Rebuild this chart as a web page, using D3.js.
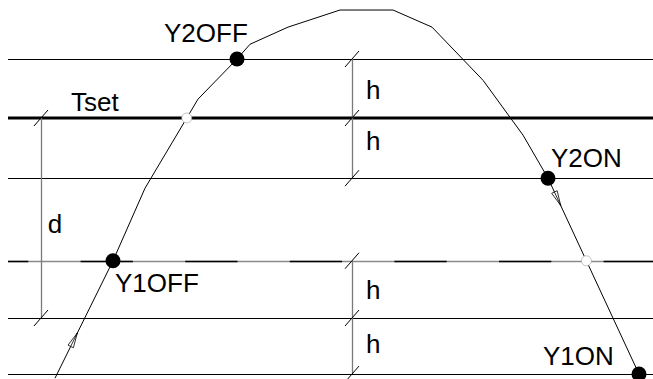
<!DOCTYPE html>
<html lang="en">
<head>
  <meta charset="UTF-8">
  <title>Two-stage switching diagram</title>
  <style>
    body {
      margin: 0;
      background: #fff;
      overflow: hidden;
    }
    svg text {
      font-family: "Liberation Sans", Arial, sans-serif;
      font-size: 26px;
      fill: #000;
    }
  </style>
</head>
<body>
  <svg width="653" height="379"></svg>

  <script src="https://d3js.org/d3.v7.min.js"></script>
  <script>
    // Levels (in units of h, Tset = 0)
    const levelNames = ["Y2OFF", "Tset", "Y2ON", "Y1OFF", "lower", "Y1ON"];
    const levelValues = [1, 0, -1.02, -2.42, -3.39, -4.34];

    // Temperature curve (x in time units, y in units of h)
    const curveX = [5.5, 11.3, 14.5, 19.8, 23.7, 25.0, 28.8, 34.0, 39.3, 43.2, 48.3, 52.3, 54.8, 63.9];
    const curveY = [-4.41, -2.42, -1.19, 0.32, 1.0, 1.25, 1.54, 1.83, 1.83, 1.54, 0.64, -0.29, -1.02, -4.34];

    // Switching points (index into the curve) and their labels
    const switchIndex = [4, 12, 1, 13];
    const switchLabels = ["Y2OFF", "Y2ON", "Y1OFF", "Y1ON"];
    const switchLabelX = [16.4, 55.1, 11.5, 54.3];
    const switchLabelY = [1.29, -0.83, -2.95, -4.19];

    // Direction arrows on the curve: segment index + position along it
    const arrowSeg = [0, 12];
    const arrowT = [0.385, 0.14];

    // Dimension lines: x position, from level, to level, label, label positions
    const dimX = [4.1, 35.2, 35.2];
    const dimFrom = [0, 1, -2.42];
    const dimTo = [-3.39, -1.02, -4.34];
    const dimTicks = [[0, -3.39], [1, 0, -1.02], [-2.42, -3.39, -4.34]];
    const dimLabels = ["d", "h", "h", "h", "h"];
    const dimLabelX = [4.77, 36.6, 36.6, 36.6, 36.6];
    const dimLabelY = [-1.95, 0.32, -0.54, -3.07, -3.98];

    const svg = d3.select("svg");
    const width = 653, height = 379;

    const x = d3.scaleLinear().domain([0, 65.3]).range([0, width]);
    const y = d3.scaleLinear().domain([0, -1]).range([118, 177]);

    const g = svg.append("g");

    // Horizontal level lines
    levelValues.forEach((v, i) => {
      const yy = Math.round(y(v));
      if (i === 3) {
        // grey line with black dashes over it
        g.append("line")
          .attr("x1", x(0.8)).attr("x2", width)
          .attr("y1", yy + 0.5).attr("y2", yy + 0.5)
          .attr("stroke", "#8a8a8a").attr("stroke-width", 1.3);
        g.append("line")
          .attr("x1", x(0.8)).attr("x2", width)
          .attr("y1", yy + 0.5).attr("y2", yy + 0.5)
          .attr("stroke", "#000").attr("stroke-width", 1.3)
          .attr("stroke-dasharray", "52.3 52.3")
          .attr("stroke-dashoffset", 32);
      } else {
        g.append("line")
          .attr("x1", x(0.8)).attr("x2", width)
          .attr("y1", i === 1 ? yy : yy + 0.5).attr("y2", i === 1 ? yy : yy + 0.5)
          .attr("stroke", "#000")
          .attr("stroke-width", i === 1 ? 3 : 1.2);
      }
    });

    g.append("text")
      .attr("x", x(7.1)).attr("y", y(0.12))
      .text("Tset");

    // Dimension lines
    dimX.forEach((dx, i) => {
      g.append("line")
        .attr("x1", x(dx) + 0.5).attr("x2", x(dx) + 0.5)
        .attr("y1", y(dimFrom[i])).attr("y2", y(dimTo[i]))
        .attr("stroke", "#7a7a7a").attr("stroke-width", 1.3);
      dimTicks[i].forEach(t => {
        g.append("line")
          .attr("x1", x(dx) - 7).attr("y1", y(t) + 8)
          .attr("x2", x(dx) + 7).attr("y2", y(t) - 8)
          .attr("stroke", "#000").attr("stroke-width", 1);
      });
    });

    dimLabels.forEach((lab, i) => {
      g.append("text")
        .attr("x", x(dimLabelX[i])).attr("y", y(dimLabelY[i]))
        .text(lab);
    });

    // Curve
    const pts = curveX.map((cx, i) => [x(cx), y(curveY[i])]);
    g.append("path")
      .attr("d", d3.line()(pts))
      .attr("fill", "none")
      .attr("stroke", "#000")
      .attr("stroke-width", 1);

    // Open circles where the curve crosses Tset (rising) and the Y1OFF line (falling)
    function crossing(level, rising) {
      for (let i = 0; i < curveY.length - 1; i++) {
        const a = curveY[i], b = curveY[i + 1];
        if ((rising && a <= level && b >= level) || (!rising && a >= level && b <= level)) {
          const t = (level - a) / (b - a);
          return [x(curveX[i] + t * (curveX[i + 1] - curveX[i])), y(level)];
        }
      }
    }
    [crossing(levelValues[1], true), crossing(levelValues[3], false)].forEach(p => {
      g.append("circle")
        .attr("cx", p[0]).attr("cy", p[1]).attr("r", 5)
        .attr("fill", "#fff")
        .attr("stroke", "#aaa").attr("stroke-width", 0.7);
    });

    // Arrows
    arrowSeg.forEach((s, i) => {
      const p0 = pts[s], p1 = pts[s + 1];
      const t = arrowT[i];
      const tip = [p0[0] + t * (p1[0] - p0[0]), p0[1] + t * (p1[1] - p0[1])];
      const len = Math.hypot(p1[0] - p0[0], p1[1] - p0[1]);
      const ux = (p1[0] - p0[0]) / len, uy = (p1[1] - p0[1]) / len;
      const L = 15, W = 3;
      const bx = tip[0] - ux * L, by = tip[1] - uy * L;
      const path = d3.path();
      path.moveTo(bx - uy * W, by + ux * W);
      path.lineTo(tip[0], tip[1]);
      path.lineTo(bx + uy * W, by - ux * W);
      path.closePath();
      g.append("path")
        .attr("d", path.toString())
        .attr("fill", "#fff")
        .attr("stroke", "#000")
        .attr("stroke-width", 0.8);
      g.append("line")
        .attr("x1", bx).attr("y1", by).attr("x2", tip[0]).attr("y2", tip[1])
        .attr("stroke", "#000").attr("stroke-width", 0.8);
    });

    // Switching points
    switchIndex.forEach((idx, i) => {
      g.append("circle")
        .attr("cx", pts[idx][0]).attr("cy", pts[idx][1])
        .attr("r", 7.5)
        .attr("fill", "#000");
      g.append("text")
        .attr("x", x(switchLabelX[i])).attr("y", y(switchLabelY[i]))
        .text(switchLabels[i]);
    });
  </script>
</body>
</html>
